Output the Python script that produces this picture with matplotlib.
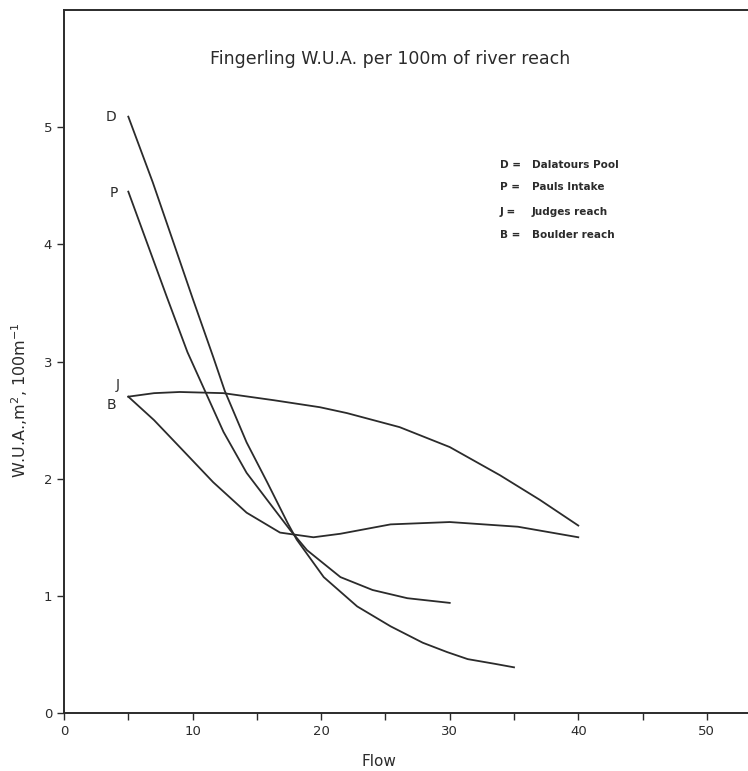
import matplotlib.pyplot as plt

# ── Data ──────────────────────────────────────────────────────────────────────
d_flow = [5, 6.9, 8.5, 10.0, 11.6, 12.5, 14.2, 15.8, 17.4, 18.1, 20.2, 22.8, 25.4, 27.9, 29.8, 31.4, 33.5, 35]
d_wua  = [5.09, 4.53, 4.02, 3.54, 3.04, 2.75, 2.31, 1.97, 1.62, 1.48, 1.16, 0.91, 0.74, 0.60, 0.52, 0.46, 0.42, 0.39]

p_flow = [5, 6.5, 8.0, 9.6, 11.0, 12.4, 14.2, 16.0, 17.6, 18.9, 21.5, 24.0, 26.7, 30]
p_wua  = [4.45, 4.00, 3.55, 3.08, 2.74, 2.40, 2.05, 1.79, 1.56, 1.39, 1.16, 1.05, 0.98, 0.94]

j_flow = [5, 7, 9, 12.4, 16.3, 19.9, 22, 26.1, 30, 33.9, 37, 40]
j_wua  = [2.70, 2.73, 2.74, 2.73, 2.67, 2.61, 2.56, 2.44, 2.27, 2.03, 1.82, 1.60]

b_flow = [5, 7, 9, 11.6, 14.2, 16.8, 19.4, 21.5, 25.4, 30, 35.3, 40]
b_wua  = [2.70, 2.50, 2.27, 1.97, 1.71, 1.54, 1.50, 1.53, 1.61, 1.63, 1.59, 1.50]

curve_tags = ["D", "P", "J", "B"]
tag_x = [4.05, 4.2, 4.35, 4.1]
tag_y = [5.09, 4.44, 2.80, 2.63]

key_codes = ["D =", "P =", "J =", "B ="]
key_names = ["Dalatours Pool", "Pauls Intake", "Judges reach", "Boulder reach"]
key_y = [4.68, 4.49, 4.28, 4.08]

# ── Figure ────────────────────────────────────────────────────────────────────
ink = "#2b2b2b"
fig = plt.figure(figsize=(7.48, 7.71), dpi=100)
ax = fig.add_axes([0.0856, 0.0752, 0.9144, 0.9118])

for xs, ys in [(d_flow, d_wua), (p_flow, p_wua), (j_flow, j_wua), (b_flow, b_wua)]:
    ax.plot(xs, ys, color=ink, lw=1.3)

for t, x, y in zip(curve_tags, tag_x, tag_y):
    ax.text(x, y, t, ha="right", va="center", fontsize=10, color=ink)

for c, n, y in zip(key_codes, key_names, key_y):
    ax.text(33.9, y, c, ha="left", va="center", fontsize=7.5,
            fontweight="bold", color=ink)
    ax.text(36.4, y, n, ha="left", va="center", fontsize=7.5,
            fontweight="bold", color=ink)

ax.text(25.4, 5.58, "Fingerling W.U.A. per 100m of river reach",
        ha="center", va="center", fontsize=12.5, color=ink)

ax.set_xlim(0, 53.2)
ax.set_ylim(0, 6.0)
ax.set_xticks([0, 10, 20, 30, 40, 50])
ax.set_xticks([5, 15, 25, 35, 45], minor=True)
ax.set_yticks([0, 1, 2, 3, 4, 5])
ax.tick_params(axis="both", which="both", direction="out", colors=ink,
               labelsize=9.5, width=1.0)
ax.tick_params(axis="both", which="major", length=5)
ax.tick_params(axis="x", which="minor", length=5)

ax.spines["right"].set_visible(False)
for s in ["left", "top", "bottom"]:
    ax.spines[s].set_color(ink)
    ax.spines[s].set_linewidth(1.4)

ax.set_xlabel("Flow", fontsize=11, color=ink)
ax.xaxis.set_label_coords(0.46, -0.058)
ax.set_ylabel("W.U.A.,m$^2$, 100m$^{-1}$", fontsize=11.5, color=ink)
ax.yaxis.set_label_coords(-0.05, 0.445)

plt.savefig("out.png", dpi=100)
